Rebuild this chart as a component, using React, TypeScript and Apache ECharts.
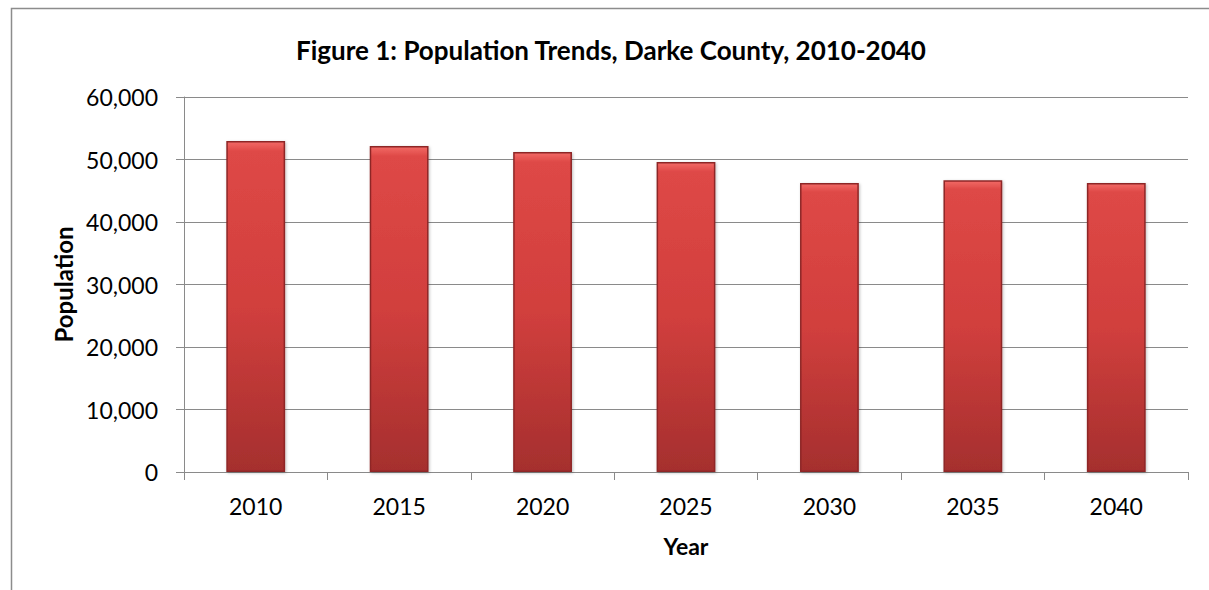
import React, { useEffect, useRef } from "react";
import * as echarts from "echarts";

const years = ["2010", "2015", "2020", "2025", "2030", "2035", "2040"];
const population = [52959, 52150, 51200, 49600, 46250, 46700, 46250];
const titleText = "Figure 1: Population Trends, Darke County, 2010-2040";
const yName = "Population";
const xName = "Year";

const FONT = "Lato, 'Open Sans', sans-serif";

export default function App() {
  const ref = useRef<HTMLDivElement>(null);
  useEffect(() => {
    if (!ref.current) return;
    const chart = echarts.init(ref.current, null, { renderer: "svg" });
    chart.setOption({
      animation: false,
      backgroundColor: "#ffffff",
      title: {
        text: titleText,
        left: 606,
        textAlign: "center",
        top: 32,
        textStyle: { fontFamily: FONT, fontSize: 26, fontWeight: "bold", color: "#000" },
      },
      graphic: [
        {
          type: "rect",
          shape: { x: 11.5, y: 8.5, width: 1230, height: 620 },
          style: { fill: "none", stroke: "#8c8c8c", lineWidth: 1.5 },
          silent: true,
        },
      ],
      grid: { left: 184, right: 21, top: 97, bottom: 118 },
      xAxis: {
        type: "category",
        data: years,
        name: xName,
        nameLocation: "middle",
        nameGap: 62,
        nameTextStyle: { fontFamily: FONT, fontSize: 23, fontWeight: "bold", color: "#000" },
        axisLine: { lineStyle: { color: "#8a8a8a", width: 1 } },
        axisTick: { show: true, length: 8, inside: false, alignWithLabel: false, lineStyle: { color: "#8a8a8a" } },
        axisLabel: { fontFamily: FONT, fontSize: 23, color: "#000", margin: 22 },
      },
      yAxis: {
        type: "value",
        min: 0,
        max: 60000,
        interval: 10000,
        name: yName,
        nameLocation: "middle",
        nameGap: 109,
        nameRotate: 90,
        nameTextStyle: { fontFamily: FONT, fontSize: 24, fontWeight: "bold", color: "#000" },
        axisLine: { show: true, lineStyle: { color: "#8a8a8a", width: 1 } },
        axisTick: { show: true, length: 8, lineStyle: { color: "#8a8a8a" } },
        axisLabel: {
          fontFamily: FONT,
          fontSize: 23,
          color: "#000",
          margin: 26,
          formatter: (v: number) => v.toLocaleString("en-US"),
        },
        splitLine: { lineStyle: { color: "#8a8a8a", width: 1 } },
      },
      series: [
        {
          type: "bar",
          data: population,
          barWidth: "41%",
          itemStyle: {
            color: {
              type: "linear",
              x: 0,
              y: 0,
              x2: 0,
              y2: 1,
              colorStops: [
                { offset: 0, color: "#f26a66" },
                { offset: 0.03, color: "#de4846" },
                { offset: 0.5, color: "#d13f3d" },
                { offset: 1, color: "#a52f2e" },
              ],
            },
            borderColor: "#8e2626",
            borderWidth: 1.5,
            shadowColor: "rgba(0,0,0,0.25)",
            shadowBlur: 3,
            shadowOffsetX: 1,
            shadowOffsetY: 1,
          },
        },
      ],
    });
    return () => chart.dispose();
  }, []);
  return (
    <div
      ref={ref}
      style={{ position: "absolute", left: 0, top: 0, width: 1209, height: 590 }}
    />
  );
}
